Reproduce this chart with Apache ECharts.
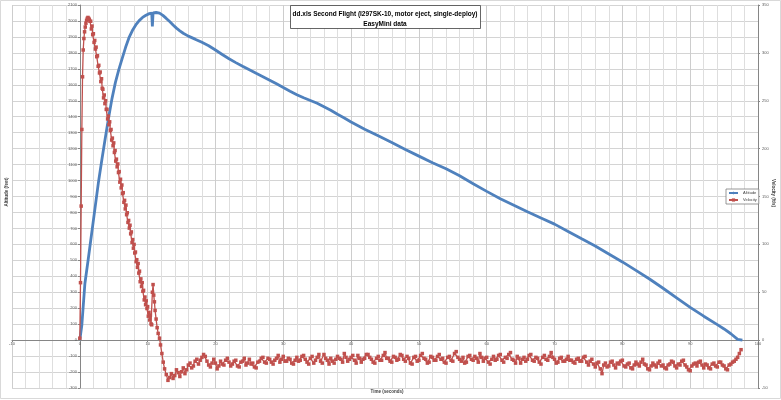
<!DOCTYPE html>
<html>
<head>
<meta charset="utf-8">
<script src="https://cdn.jsdelivr.net/npm/echarts@6/dist/echarts.min.js"></script>
<style>html,body{margin:0;padding:0;background:#fff}#c{width:781px;height:400px}</style>
</head>
<body>
<div id="c"></div>
<script>
// ---- Data ----
const altTime = [0,0.3,0.75,1.25,1.75,2.25,2.75,3.25,3.75,4.25,4.75,5.25,5.75,6.25,6.75,7.25,7.75,8.25,8.75,9.25,9.75,10.25,10.6,10.7,10.8,11.25,11.75,12.25,12.75,13.25,13.75,14.25,14.75,15.25,16,17,18,19,20,21,22,23,24,25,26,27,28,29,30,31,32,33,34,35,36,37,38,39,40,42,44,46,48,50,52,54,56,58,60,62,64,66,68,70,72,74,76,78,80,82,84,86,88,90,92,94,95,96,97,97.7];
const altFeet = [0,95,355,510,670,830,990,1130,1265,1395,1515,1615,1695,1765,1835,1895,1940,1975,2002,2022,2036,2046,2050,1965,2051,2053,2049,2035,2016,1996,1975,1955,1938,1923,1905,1886,1866,1845,1818,1790,1763,1739,1716,1694,1672,1651,1629,1606,1583,1560,1538,1519,1502,1484,1462,1440,1415,1392,1367,1321,1280,1238,1195,1153,1112,1074,1030,980,932,886,845,804,765,727,681,635,590,540,490,437,383,325,265,205,150,97,70,40,5,0];

const velTime = [
  0,0.1,0.2,0.3,0.4,0.5,0.6,0.7,0.8,0.9,1.0,1.1,1.2,1.3,1.4,
  1.5,1.6,1.7,1.8,1.9,2.0,2.1,2.2,2.3,2.4,2.5,2.6,2.7,2.8,2.9,3.0,3.1,3.2,3.3,3.4,3.5,3.6,3.7,3.8,3.9,
  4.0,4.1,4.2,4.3,4.4,4.5,4.6,4.7,4.8,4.9,5.0,5.1,5.2,5.3,5.4,5.5,5.6,5.7,5.8,5.9,
  6.0,6.1,6.2,6.3,6.4,6.5,6.6,6.7,6.8,6.9,7.0,7.1,7.2,7.3,7.4,7.5,7.6,7.7,7.8,7.9,
  8.0,8.1,8.2,8.3,8.4,8.5,8.6,8.7,8.8,8.9,9.0,9.1,9.2,9.3,9.4,9.5,9.6,9.7,9.8,9.9,
  10.0,10.1,10.2,10.3,10.4,10.5,10.6,
  10.7,10.8,10.9,11.0,11.1,11.25,11.4,11.55,11.75,11.9,12.1,12.3,
  12.5,12.75,13,13.25,13.5,13.75,14,14.25,14.5,14.75,15,15.25,15.5,15.75,16,16.25,16.5,16.75,17,17.25,
  17.5,17.75,18,18.25,18.5,18.75,19,19.25,19.5,19.75,20,20.25,20.5,20.75,21,21.25,21.5,21.75,22,22.25,
  22.5,22.75,23,23.25,23.5,23.75,24,24.25,24.5,24.75,25,25.25,25.5,25.75,26,26.25,26.5,26.75,27,27.25,
  27.5,27.75,28,28.25,28.5,28.75,29,29.25,29.5,29.75,30,30.25,30.5,30.75,31,31.25,31.5,31.75,32,32.25,
  32.5,32.75,33,33.25,33.5,33.75,34,34.25,34.5,34.75,35,35.25,35.5,35.75,36,36.25,36.5,36.75,37,37.25,
  37.5,37.75,38,38.25,38.5,38.75,39,39.25,39.5,39.75,40,40.25,40.5,40.75,41,41.25,41.5,41.75,42,42.25,
  42.5,42.75,43,43.25,43.5,43.75,44,44.25,44.5,44.75,45,45.25,45.5,45.75,46,46.25,46.5,46.75,47,47.25,
  47.5,47.75,48,48.25,48.5,48.75,49,49.25,49.5,49.75,50,50.25,50.5,50.75,51,51.25,51.5,51.75,52,52.25,
  52.5,52.75,53,53.25,53.5,53.75,54,54.25,54.5,54.75,55,55.25,55.5,55.75,56,56.25,56.5,56.75,57,57.25,
  57.5,57.75,58,58.25,58.5,58.75,59,59.25,59.5,59.75,60,60.25,60.5,60.75,61,61.25,61.5,61.75,62,62.25,
  62.5,62.75,63,63.25,63.5,63.75,64,64.25,64.5,64.75,65,65.25,65.5,65.75,66,66.25,66.5,66.75,67,67.25,
  67.5,67.75,68,68.25,68.5,68.75,69,69.25,69.5,69.75,70,70.25,70.5,70.75,71,71.25,71.5,71.75,72,72.25,
  72.5,72.75,73,73.25,73.5,73.75,74,74.25,74.5,74.75,75,75.25,75.5,75.75,76,76.25,76.5,76.75,77,77.25,
  77.5,77.75,78,78.25,78.5,78.75,79,79.25,79.5,79.75,80,80.25,80.5,80.75,81,81.25,81.5,81.75,82,82.25,
  82.5,82.75,83,83.25,83.5,83.75,84,84.25,84.5,84.75,85,85.25,85.5,85.75,86,86.25,86.5,86.75,87,87.25,
  87.5,87.75,88,88.25,88.5,88.75,89,89.25,89.5,89.75,90,90.25,90.5,90.75,91,91.25,91.5,91.75,92,92.25,
  92.5,92.75,93,93.25,93.5,93.75,94,94.25,94.5,94.75,95,95.25,95.5,95.75,96,96.25,96.5,96.75,97,97.25,
  97.5];
const velFtps = [
  2,60,140,220,275,303,315,322,327,331,334,336,337,336,335,
  333,333,325,328,319,320,311,313,304,306,296,297,286,287,279,280,270,273,263,262,253,256,247,250,241,
  241,231,234,225,228,219,220,209,211,203,206,196,198,187,189,181,184,175,176,165,
  168,159,162,153,154,144,146,137,141,131,133,123,125,117,120,111,113,102,105,96,
  100,91,92,82,84,76,80,70,72,61,64,56,60,51,52,42,45,37,41,33,
  35,25,29,21,26,17,16,
  50,58,47,40,31,22,13,7,2,-5,-14,-23,
  -30,-36,-42,-39,-35,-40,-37,-31,-34,-38,-33,-29,-35,-31,-26,-24,-29,-27,-22,-20,
  -25,-21,-18,-15,-17,-22,-26,-28,-24,-20,-24,-30,-27,-22,-25,-26,-21,-19,-23,-27,
  -25,-22,-21,-27,-28,-23,-22,-19,-26,-24,-20,-25,-24,-28,-29,-23,-22,-19,-18,-23,
  -24,-19,-20,-23,-25,-21,-19,-16,-23,-20,-17,-22,-22,-19,-20,-24,-25,-21,-18,-22,
  -21,-17,-16,-20,-23,-25,-19,-17,-24,-21,-18,-15,-22,-24,-15,-19,-21,-25,-19,-22,
  -24,-20,-17,-19,-20,-23,-14,-18,-22,-20,-18,-16,-21,-24,-16,-19,-23,-20,-19,-15,
  -15,-18,-20,-23,-24,-19,-17,-21,-21,-16,-13,-19,-19,-22,-23,-17,-18,-21,-20,-15,
  -16,-20,-22,-17,-19,-24,-25,-18,-17,-22,-21,-16,-14,-19,-20,-24,-23,-17,-18,-21,
  -21,-17,-15,-20,-19,-23,-24,-18,-17,-21,-22,-14,-12,-18,-20,-22,-18,-24,-23,-17,
  -16,-20,-21,-17,-19,-23,-14,-18,-22,-19,-18,-23,-25,-20,-17,-21,-20,-16,-15,-21,
  -23,-18,-19,-15,-13,-20,-21,-24,-17,-19,-24,-20,-18,-22,-20,-16,-15,-21,-22,-18,
  -19,-23,-25,-18,-16,-20,-21,-17,-13,-18,-20,-24,-23,-19,-18,-22,-22,-20,-17,-21,
  -21,-23,-24,-20,-19,-22,-22,-18,-17,-23,-26,-22,-20,-25,-28,-24,-23,-30,-35,-26,
  -24,-28,-27,-23,-22,-26,-29,-24,-25,-22,-21,-27,-28,-25,-24,-29,-30,-26,-23,-25,
  -27,-23,-20,-25,-26,-30,-31,-27,-24,-26,-28,-24,-22,-27,-26,-29,-30,-26,-25,-22,
  -23,-27,-29,-25,-26,-22,-21,-26,-28,-31,-32,-27,-25,-24,-27,-23,-22,-26,-29,-25,
  -26,-29,-30,-25,-24,-27,-28,-23,-23,-26,-27,-30,-31,-26,-25,-23,-22,-20,-18,-14,
  -10];

const seriesNames = ['Altitude', 'Velocity'];
const chartTitle = 'dd.xls Second Flight (I297SK-10, motor eject, single-deploy)';
const chartSubtitle = 'EasyMini data';
const xTitle = 'Time (seconds)';
const yLeftTitle = 'Altitude (feet)';
const yRightTitle = 'Velocity (ft/s)';

const altData = altTime.map((t, i) => [t, altFeet[i]]);
const velData = velTime.map((t, i) => [t, velFtps[i]]);

const FONT = '"Liberation Sans", Arial, sans-serif';
const plain = v => String(v);
const labelStyle = { fontSize: 4, color: '#595959', fontFamily: FONT, formatter: plain };

const chart = echarts.init(document.getElementById('c'), null, { renderer: 'canvas' });
chart.setOption({
  animation: false,
  backgroundColor: '#fff',
  grid: { left: 12, right: 23, top: 5, bottom: 12, containLabel: false },
  legend: {
    orient: 'vertical', left: 726, top: 189,
    data: seriesNames,
    backgroundColor: '#fff', borderColor: '#7f7f7f', borderWidth: 0.8,
    padding: [2, 2], itemWidth: 9, itemHeight: 4, itemGap: 3,
    textStyle: { fontSize: 4, color: '#404040', fontFamily: FONT }
  },
  xAxis: {
    type: 'value', min: -10, max: 100, interval: 10, offset: -48,
    axisLine: { show: true, onZero: false, lineStyle: { color: '#868686', width: 1 } },
    axisTick: { show: true, length: 2, lineStyle: { color: '#868686' } },
    axisLabel: Object.assign({ margin: 2 }, labelStyle),
    splitLine: { show: true, lineStyle: { color: '#cdcdcd', width: 1 } },
    minorTick: { show: true, splitNumber: 5, length: 0 },
    minorSplitLine: { show: true, lineStyle: { color: '#dedede', width: 1 } }
  },
  yAxis: [
    {
      type: 'value', min: -300, max: 2100, interval: 100, position: 'left', offset: -68,
      axisLine: { show: true, onZero: false, lineStyle: { color: '#868686', width: 1 } },
      axisTick: { show: true, length: 2, lineStyle: { color: '#868686' } },
      axisLabel: Object.assign({ margin: 3 }, labelStyle),
      splitLine: { show: true, lineStyle: { color: '#d4d4d4', width: 1 } }
    },
    {
      type: 'value', min: -50, max: 350, interval: 50, position: 'right',
      axisLine: { show: true, onZero: false, lineStyle: { color: '#868686', width: 1 } },
      axisTick: { show: true, length: 2, lineStyle: { color: '#868686' } },
      axisLabel: Object.assign({ margin: 4 }, labelStyle),
      splitLine: { show: false }
    }
  ],
  series: [
    {
      name: seriesNames[0], type: 'line', yAxisIndex: 0, data: altData,
      symbol: 'diamond', symbolSize: 3, showSymbol: false,
      lineStyle: { color: '#4F81BD', width: 2.8 },
      itemStyle: { color: '#4F81BD' }, z: 3
    },
    {
      name: seriesNames[1], type: 'line', yAxisIndex: 1, data: velData,
      symbol: 'rect', symbolSize: 3.5, showSymbol: true, showAllSymbol: true,
      lineStyle: { color: '#C0504D', width: 1.3 },
      itemStyle: { color: '#C0504D' }, z: 4
    }
  ],
  graphic: [
    { type: 'rect', shape: { x: 0.5, y: 0.5, width: 780, height: 398 }, style: { fill: 'none', stroke: '#d9d9d9', lineWidth: 1 }, silent: true, z: -10 },
    { type: 'rect', shape: { x: 290.5, y: 5.5, width: 190, height: 23 }, style: { fill: '#fff', stroke: '#3f3f3f', lineWidth: 0.8 }, z: 50 },
    { type: 'text', x: 385, y: 14.5, z: 51, style: { text: chartTitle, fill: '#000', font: 'bold 6.5px ' + FONT, textAlign: 'center', textVerticalAlign: 'middle' } },
    { type: 'text', x: 385, y: 24, z: 51, style: { text: chartSubtitle, fill: '#000', font: 'bold 6.5px ' + FONT, textAlign: 'center', textVerticalAlign: 'middle' } },
    { type: 'text', x: 387, y: 392, z: 51, style: { text: xTitle, fill: '#404040', font: 'bold 4.5px ' + FONT, textAlign: 'center', textVerticalAlign: 'middle' } },
    { type: 'text', x: 7, y: 192, rotation: Math.PI / 2, z: 51, style: { text: yLeftTitle, fill: '#404040', font: 'bold 4.5px ' + FONT, textAlign: 'center', textVerticalAlign: 'middle' } },
    { type: 'text', x: 773, y: 193, rotation: -Math.PI / 2, z: 51, style: { text: yRightTitle, fill: '#404040', font: 'bold 4.5px ' + FONT, textAlign: 'center', textVerticalAlign: 'middle' } }
  ]
});
</script>
</body>
</html>
